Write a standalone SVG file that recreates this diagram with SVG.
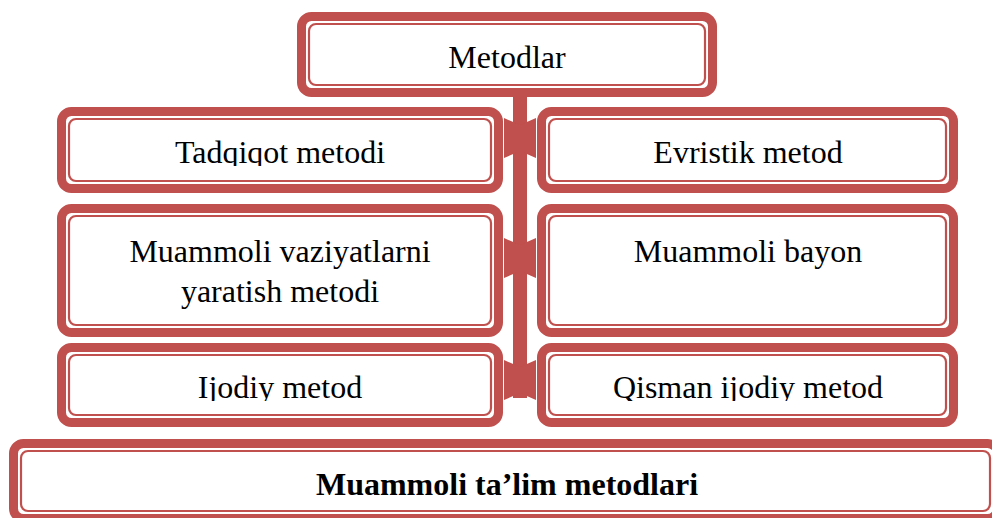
<svg xmlns="http://www.w3.org/2000/svg" width="992" height="518" viewBox="0 0 992 518">
  <defs>
    <style>
      .outer { fill: #ffffff; stroke: #C0504D; stroke-width: 9; }
      .inner { fill: none; stroke: #C0504D; stroke-width: 2.2; }
      .lbl { font-size: 32px; fill: #000000; text-anchor: middle; }
      .bold { font-weight: bold; }
      .conn { fill: #C0504D; stroke: none; }
    </style>
    <clipPath id="clipRow1"><rect x="0" y="100" width="992" height="66"/></clipPath>
    <clipPath id="clipRow3"><rect x="0" y="340" width="992" height="61"/></clipPath>
  </defs>
  <rect x="0" y="0" width="992" height="518" fill="#ffffff"/>

  <g id="connectors">
    <rect class="conn" x="513" y="97" width="14" height="301"/>
    <polygon class="conn" points="504,118 520,125 536,118 536,158 520,151 504,158"/>
    <polygon class="conn" points="504,238 520,245 536,238 536,278 520,271 504,278"/>
    <polygon class="conn" points="504,360 520,367 536,360 536,400 520,393 504,400"/>
  </g>

  <g font-family="'Liberation Serif', 'Times New Roman', serif">
  <g id="node-metodlar">
    <rect class="outer" x="301.5" y="16.5" width="411" height="76" rx="10"/>
    <rect class="inner" x="309" y="24" width="396" height="61" rx="7"/>
    <text class="lbl" x="507" y="68">Metodlar</text>
  </g>

  <g id="node-tadqiqot">
    <rect class="outer" x="61.5" y="111.5" width="437" height="77" rx="10"/>
    <rect class="inner" x="69" y="119" width="422" height="62" rx="7"/>
    <text class="lbl" x="280" y="163" clip-path="url(#clipRow1)">Tadqiqot metodi</text>
  </g>

  <g id="node-evristik">
    <rect class="outer" x="541.5" y="111.5" width="412" height="77" rx="10"/>
    <rect class="inner" x="549" y="119" width="397" height="62" rx="7"/>
    <text class="lbl" x="748" y="163" clip-path="url(#clipRow1)">Evristik metod</text>
  </g>

  <g id="node-vaziyat">
    <rect class="outer" x="61.5" y="208.5" width="437" height="124" rx="10"/>
    <rect class="inner" x="69" y="216" width="422" height="109" rx="7"/>
    <text class="lbl" x="280" y="262">Muammoli vaziyatlarni</text>
    <text class="lbl" x="280" y="302">yaratish metodi</text>
  </g>

  <g id="node-bayon">
    <rect class="outer" x="541.5" y="208.5" width="412" height="124" rx="10"/>
    <rect class="inner" x="549" y="216" width="397" height="109" rx="7"/>
    <text class="lbl" x="748" y="262">Muammoli bayon</text>
  </g>

  <g id="node-ijodiy">
    <rect class="outer" x="61.5" y="347.5" width="437" height="75" rx="10"/>
    <rect class="inner" x="69" y="355" width="422" height="60" rx="7"/>
    <text class="lbl" x="280" y="398" clip-path="url(#clipRow3)">Ijodiy metod</text>
  </g>

  <g id="node-qisman">
    <rect class="outer" x="541.5" y="347.5" width="412" height="75" rx="10"/>
    <rect class="inner" x="549" y="355" width="397" height="60" rx="7"/>
    <text class="lbl" x="748" y="398" clip-path="url(#clipRow3)">Qisman ijodiy metod</text>
  </g>

  <g id="node-muammoli-talim">
    <rect class="outer" x="13.5" y="443.5" width="984" height="75" rx="10"/>
    <rect class="inner" x="21" y="451" width="969" height="60" rx="7"/>
    <text class="lbl bold" x="507" y="495">Muammoli ta’lim metodlari</text>
  </g>
  </g>
</svg>
